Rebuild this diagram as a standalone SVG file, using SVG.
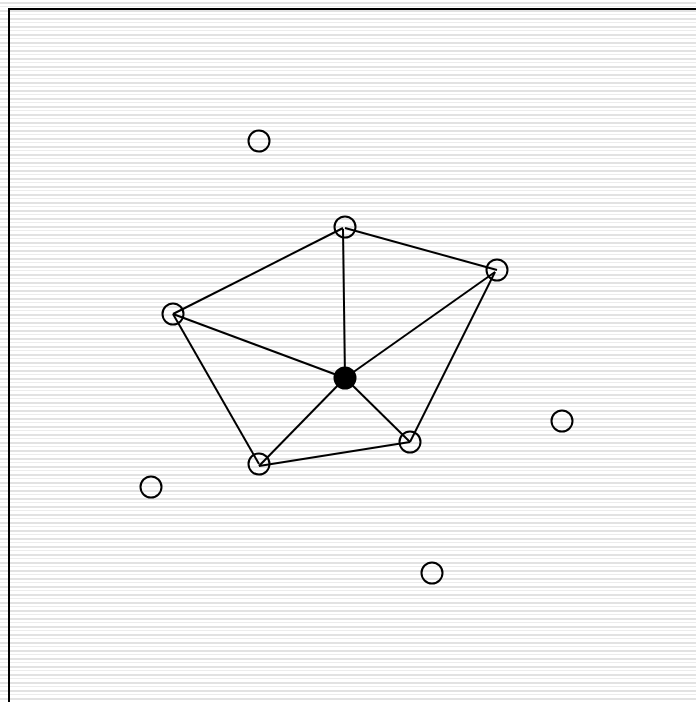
<svg xmlns="http://www.w3.org/2000/svg" width="696" height="702" viewBox="0 0 696 702">
<style>
.edge{stroke:#000;stroke-width:2;fill:none}
.node{fill:none;stroke:#000;stroke-width:2}
.hub{fill:#000;stroke:#000;stroke-width:2}
</style>
<defs>
<pattern id="stripes" x="0" y="0" width="8" height="8" patternUnits="userSpaceOnUse">
<rect x="0" y="0" width="8" height="8" fill="#ffffff"/>
<rect x="0" y="2" width="8" height="2" fill="#e2e2e2"/>
<rect x="0" y="6" width="8" height="1" fill="#ececec"/>
</pattern>
</defs>
<rect x="0" y="0" width="696" height="702" fill="url(#stripes)"/>
<rect x="9" y="9" width="720" height="720" fill="none" stroke="#000" stroke-width="2"/>
<g id="connectors">
<line class="edge" x1="345" y1="228" x2="497" y2="270"/>
<line class="edge" x1="343" y1="228" x2="173" y2="314"/>
<line class="edge" x1="343" y1="229" x2="345" y2="378"/>
<line class="edge" x1="495" y1="272" x2="345" y2="378"/>
<line class="edge" x1="495" y1="272" x2="410" y2="442"/>
<line class="edge" x1="173" y1="314" x2="345" y2="378"/>
<line class="edge" x1="173" y1="314" x2="259" y2="464"/>
<line class="edge" x1="259" y1="466" x2="345" y2="378"/>
<line class="edge" x1="259" y1="466" x2="410" y2="442"/>
<line class="edge" x1="410" y1="442" x2="345" y2="378"/>
</g>
<g id="n1"><circle class="node" cx="259" cy="141" r="10.5"/></g>
<g id="n2"><circle class="node" cx="562" cy="421" r="10.5"/></g>
<g id="n3"><circle class="node" cx="151" cy="487" r="10.5"/></g>
<g id="n4"><circle class="node" cx="432" cy="573" r="10.5"/></g>
<g id="nA"><circle class="node" cx="345" cy="227" r="10.5"/></g>
<g id="nB"><circle class="node" cx="497" cy="270" r="10.5"/></g>
<g id="nC"><circle class="node" cx="173" cy="314" r="10.5"/></g>
<g id="nD"><circle class="node" cx="410" cy="442" r="10.5"/></g>
<g id="nE"><circle class="node" cx="259" cy="464" r="10.5"/></g>
<g id="nF"><circle class="hub" cx="345" cy="378" r="10.5"/></g>
</svg>
